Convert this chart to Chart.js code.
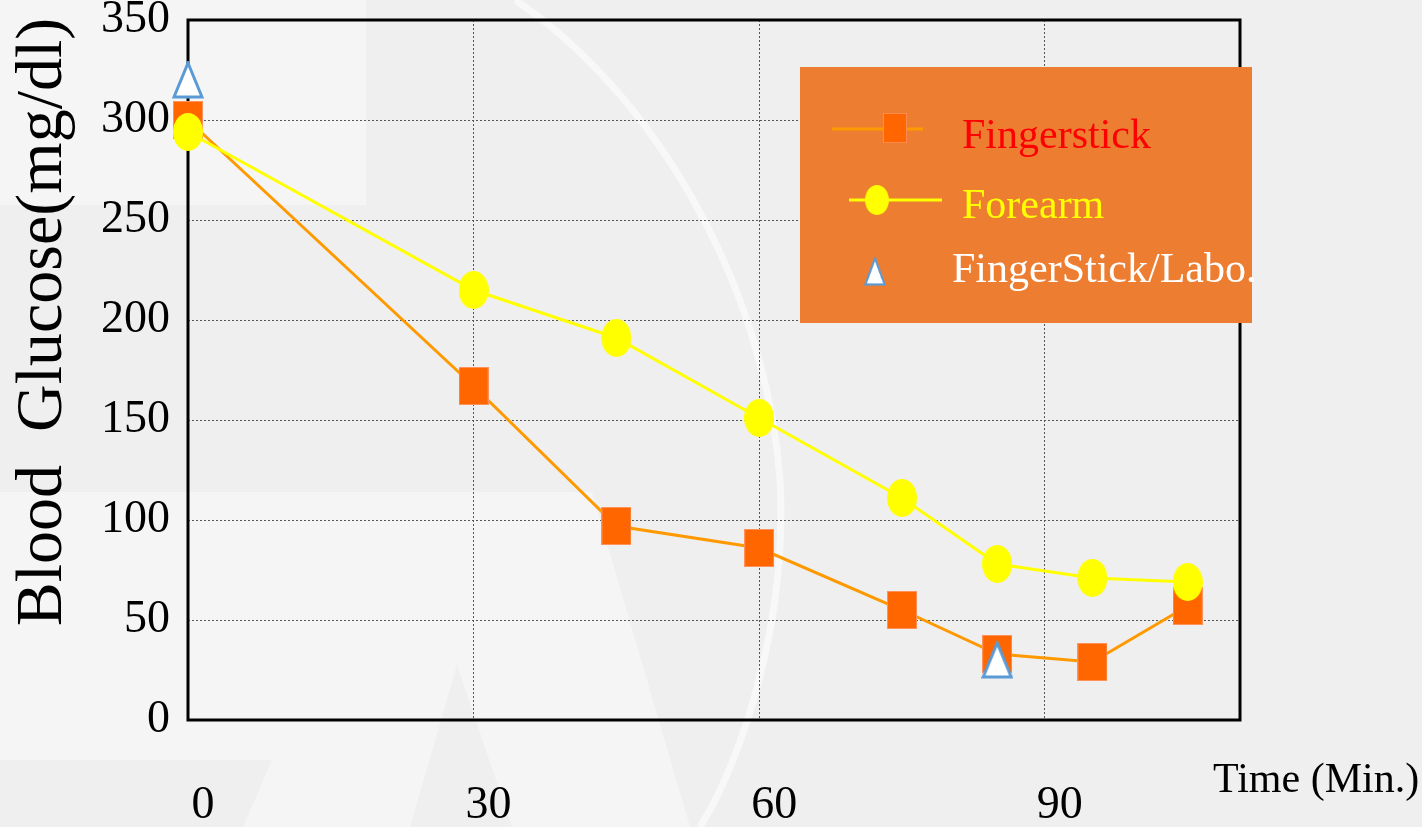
<!DOCTYPE html>
<html>
<head>
<meta charset="utf-8">
<title>Blood Glucose</title>
<script src="https://cdn.jsdelivr.net/npm/chart.js@4.4.1/dist/chart.umd.min.js"></script>
<style>
  html, body { margin: 0; padding: 0; width: 1422px; height: 827px; overflow: hidden; background: #efefef; }
  #bg { position: absolute; left: 0; top: 0; }
  #wrap { position: absolute; left: 0; top: 0; width: 1422px; height: 827px; }
</style>
</head>
<body>
<svg id="bg" width="1422" height="827" xmlns="http://www.w3.org/2000/svg">
  <rect x="0" y="0" width="1422" height="827" fill="#efefef"/>
  <rect x="0" y="0" width="366" height="205" fill="#f5f5f5"/>
  <polygon points="0,492 592,492 690,827 243,827 272,760 0,760" fill="#f5f5f5"/>
  <polygon points="457,665 410,827 512,827" fill="#efefef"/>
  <path d="M 515 0 C 650 90, 765 280, 780 480 C 788 620, 742 760, 700 827" fill="none" stroke="#ffffff" stroke-opacity="0.55" stroke-width="7"/>
</svg>
<div id="wrap"><canvas id="c" width="1422" height="827"></canvas></div>
<script>
// Time points (minutes) and glucose readings (mg/dl)
const times = [0, 30, 45, 60, 75, 85, 95, 105];
const fingerstick = [300, 167, 97, 86, 55, 33, 29, 57];
const forearm = [294, 215, 191, 151, 111, 78, 71, 69];
const labTimes = [0, 85];
const labValues = [320, 30];

const seriesNames = ['Fingerstick', 'Forearm', 'FingerStick/Labo.'];
const xTicks = [0, 30, 60, 90];
const yTicks = [0, 50, 100, 150, 200, 250, 300, 350];
const yTitle = 'Blood  Glucose(mg/dl)';
const xTitle = 'Time (Min.)';

const SERIF = "'Liberation Serif', 'Times New Roman', serif";

// Marker sprites
function sprite(w, h, paint) {
  const c = document.createElement('canvas');
  c.width = w; c.height = h;
  paint(c.getContext('2d'), w, h);
  return c;
}
const squareMark = sprite(30, 38, (g, w, h) => {
  g.fillStyle = '#ff6600';
  g.fillRect(0, 0, w, h);
  g.strokeStyle = 'rgba(255,150,100,0.9)';
  g.lineWidth = 1;
  g.strokeRect(0.5, 0.5, w - 1, h - 1);
});
const ellipseMark = sprite(30, 38, (g, w, h) => {
  g.fillStyle = '#ffff00';
  g.beginPath();
  g.ellipse(w / 2, h / 2, w / 2, h / 2, 0, 0, Math.PI * 2);
  g.fill();
});
const triangleMark = sprite(32, 38, (g, w, h) => {
  g.beginPath();
  g.moveTo(w / 2, 2);
  g.lineTo(w - 2, h - 2);
  g.lineTo(2, h - 2);
  g.closePath();
  g.fillStyle = '#ffffff';
  g.fill();
  g.strokeStyle = '#5b9bd5';
  g.lineWidth = 3;
  g.lineJoin = 'miter';
  g.stroke();
});

const toPoints = (xs, ys) => xs.map((x, i) => ({ x: x, y: ys[i] }));

// Plot frame drawn under the markers
const framePlugin = {
  id: 'frame',
  beforeDatasetsDraw(chart) {
    const a = chart.chartArea, g = chart.ctx;
    g.save();
    g.strokeStyle = '#000000';
    g.lineWidth = 3;
    g.strokeRect(a.left, a.top, a.right - a.left, a.bottom - a.top);
    g.restore();
  }
};

// Axis titles and legend panel
const textPlugin = {
  id: 'texts',
  afterDraw(chart) {
    const g = chart.ctx;
    g.save();
    // y title
    g.translate(61, 322);
    g.rotate(-Math.PI / 2);
    g.font = '66px ' + SERIF;
    g.fillStyle = '#000000';
    g.textAlign = 'center';
    g.textBaseline = 'alphabetic';
    g.fillText(yTitle, 0, 0);
    g.restore();

    g.save();
    g.font = '42px ' + SERIF;
    g.fillStyle = '#000000';
    g.textAlign = 'left';
    g.textBaseline = 'alphabetic';
    g.fillText(xTitle, 1213, 792);

    // legend box
    g.fillStyle = '#ed7d31';
    g.fillRect(800, 67, 452, 256);

    // Fingerstick entry
    g.strokeStyle = '#ff9900';
    g.lineWidth = 3;
    g.beginPath(); g.moveTo(832, 129); g.lineTo(923, 129); g.stroke();
    g.drawImage(squareMark, 883, 113, 24, 30);
    // Forearm entry
    g.strokeStyle = '#ffff00';
    g.beginPath(); g.moveTo(849, 200); g.lineTo(942, 200); g.stroke();
    g.drawImage(ellipseMark, 865, 185, 24, 30);
    // Lab entry
    g.drawImage(triangleMark, 864, 257, 22, 29);

    g.font = '42px ' + SERIF;
    g.fillStyle = '#ff0000';
    g.fillText(seriesNames[0], 962, 148);
    g.fillStyle = '#ffff00';
    g.fillText(seriesNames[1], 962, 218);
    g.fillStyle = '#ffffff';
    g.fillText(seriesNames[2], 952, 282);
    g.restore();
  }
};

new Chart(document.getElementById('c'), {
  type: 'line',
  data: {
    datasets: [
      {
        label: seriesNames[0],
        data: toPoints(times, fingerstick),
        borderColor: '#ff9900',
        borderWidth: 3,
        pointStyle: squareMark,
        order: 3,
        clip: false
      },
      {
        label: seriesNames[1],
        data: toPoints(times, forearm),
        borderColor: '#ffff00',
        borderWidth: 3,
        pointStyle: ellipseMark,
        order: 2,
        clip: false
      },
      {
        label: seriesNames[2],
        data: toPoints(labTimes, labValues),
        showLine: false,
        pointStyle: triangleMark,
        order: 1,
        clip: false
      }
    ]
  },
  options: {
    responsive: false,
    animation: false,
    events: [],
    layout: { padding: { left: 0, top: 20, right: 182, bottom: 0 } },
    plugins: {
      legend: { display: false },
      tooltip: { enabled: false },
      title: { display: false }
    },
    elements: { line: { tension: 0 }, point: { radius: 15 } },
    scales: {
      x: {
        type: 'linear',
        min: 0,
        max: 110.5,
        afterBuildTicks: s => { s.ticks = xTicks.map(v => ({ value: v })); },
        afterFit: s => { s.height = 107; s.paddingLeft = 0; s.paddingRight = 0; },
        grid: {
          drawTicks: false,
          lineWidth: 1,
          color: c => (c.tick && c.tick.value === 0) ? 'rgba(0,0,0,0)' : '#555555'
        },
        border: { display: false, dash: [2, 2] },
        ticks: {
          color: '#000000',
          font: { family: SERIF, size: 46 },
          padding: 58,
          labelOffset: 15,
          maxRotation: 0,
          autoSkip: false
        }
      },
      y: {
        min: 0,
        max: 350,
        afterBuildTicks: s => { s.ticks = yTicks.map(v => ({ value: v })); },
        afterFit: s => { s.width = 188; s.paddingTop = 0; s.paddingBottom = 0; },
        grid: {
          drawTicks: false,
          lineWidth: 1,
          color: c => (c.tick && (c.tick.value === 0 || c.tick.value === 350)) ? 'rgba(0,0,0,0)' : '#555555'
        },
        border: { display: false, dash: [2, 2] },
        ticks: {
          color: '#000000',
          font: { family: SERIF, size: 46 },
          padding: 18,
          autoSkip: false
        }
      }
    }
  },
  plugins: [framePlugin, textPlugin]
});
</script>
</body>
</html>
